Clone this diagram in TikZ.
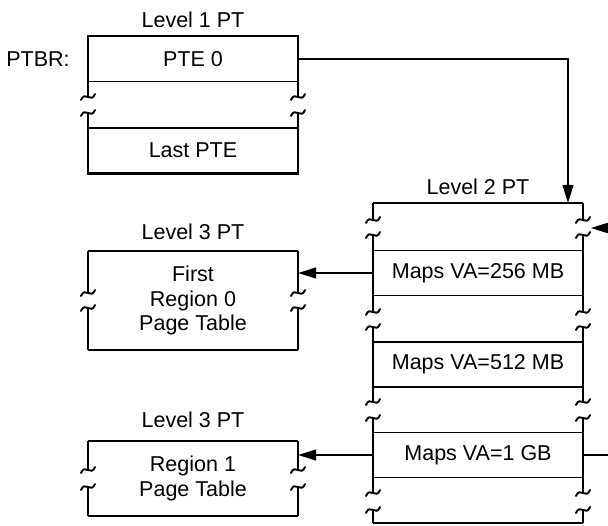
\documentclass[tikz,border=0pt]{standalone}
\usepackage{fontspec}
\setmainfont{Liberation Sans}
\usetikzlibrary{positioning,arrows.meta}
\tikzset{
  ptarrow/.style={-{Triangle[length=18pt,width=11pt]}, line width=1.4pt},
  rowbox/.style={draw, line width=1.4pt, minimum width=210pt, minimum height=45pt, inner sep=0pt, align=center},
  frame/.style={minimum width=210pt, inner sep=0pt, align=center},
  side/.style={line width=2.4pt},
  brk/.style={line width=1.9pt, line cap=round},
  title/.style={inner sep=0pt}
}
% torn edge mark on a frame side
\newcommand{\brkmark}[2]{\draw[brk] (#1-7,#2+3) .. controls (#1-3,#2-7) and (#1+3,#2+7) .. (#1+7,#2-3);}

\begin{document}
\begin{tikzpicture}[x=1pt, y=-1pt, every node/.style={font=\fontsize{21.5}{24.5}\selectfont}]
  \useasboundingbox (0,0) rectangle (608,525);

  % level 1
  \node[title] (lvlone) at (193,20) {Level 1 PT};
  \node[title] (ptbr) at (38,59) {PTBR:};
  \node[rowbox] (pte0) at (193,59) {PTE 0};
  \node[rowbox] (lastpte) at (193,150.5) {Last PTE};
  \draw[side] (pte0.north west) -- (pte0.north east);
  \draw[side] (lastpte.south west) -- (lastpte.south east);
  \foreach \x in {88,298} {
    \draw[side] (\x,37) -- (\x,97);
    \draw[side] (\x,113) -- (\x,172);
    \brkmark{\x}{97} \brkmark{\x}{113}
  }

  % level 2
  \node[title] (lvltwo) at (478,187) {Level 2 PT};
  \node[frame, minimum height=320pt] (ltwo) at (478,363) {};
  \node[rowbox] (m256) at (478,273) {Maps VA=256 MB};
  \node[rowbox] (m512) at (478,364.5) {Maps VA=512 MB};
  \node[rowbox] (m1g) at (478,455) {Maps VA=1 GB};
  \draw[side] (ltwo.north west) -- (ltwo.north east);
  \draw[side] (ltwo.south west) -- (ltwo.south east);
  \foreach \x in {373,583} {
    \draw[side] (\x,203) -- (\x,220);
    \foreach \a/\b in {235/312,327/402,418/493} {
      \draw[side] (\x,\a) -- (\x,\b);
    }
    \draw[side] (\x,510) -- (\x,523);
    \foreach \y in {220,235,312,327,402,418,493,510} {
      \brkmark{\x}{\y}
    }
  }

  % level 3
  \node[title] (lthreea) at (193,232) {Level 3 PT};
  \node[frame, minimum height=99pt] (l3a) at (193,300.5) {First\\Region 0\\Page Table};
  \draw[side] (l3a.north west) -- (l3a.north east);
  \draw[side] (l3a.south west) -- (l3a.south east);
  \node[title] (lthreeb) at (193,420) {Level 3 PT};
  \node[frame, minimum height=75pt] (l3b) at (193,478.5) {Region 1\\Page Table};
  \draw[side] (l3b.north west) -- (l3b.north east);
  \draw[side] (l3b.south west) -- (l3b.south east);
  \foreach \x in {88,298} {
    \draw[side] (\x,251) -- (\x,293);
    \draw[side] (\x,308) -- (\x,350);
    \brkmark{\x}{293} \brkmark{\x}{308}
    \draw[side] (\x,441) -- (\x,470);
    \draw[side] (\x,487) -- (\x,516);
    \brkmark{\x}{470} \brkmark{\x}{487}
  }

  % pointers
  \coordinate (ptrin) at ([xshift=90pt]ltwo.north);
  \coordinate (fromR) at (616,228);
  \coordinate (intoR) at (591,228);
  \coordinate (outR) at (616,455);
  \draw[ptarrow] (pte0.east) -| (ptrin);
  \draw[ptarrow] (m256.west) -- (m256.west -| l3a.east);
  \draw[ptarrow] (m1g.west) -- (m1g.west -| l3b.east);
  \draw[ptarrow] (fromR) -- (intoR);
  \draw[line width=1.4pt] (m1g.east) -- (outR);
\end{tikzpicture}
\end{document}
